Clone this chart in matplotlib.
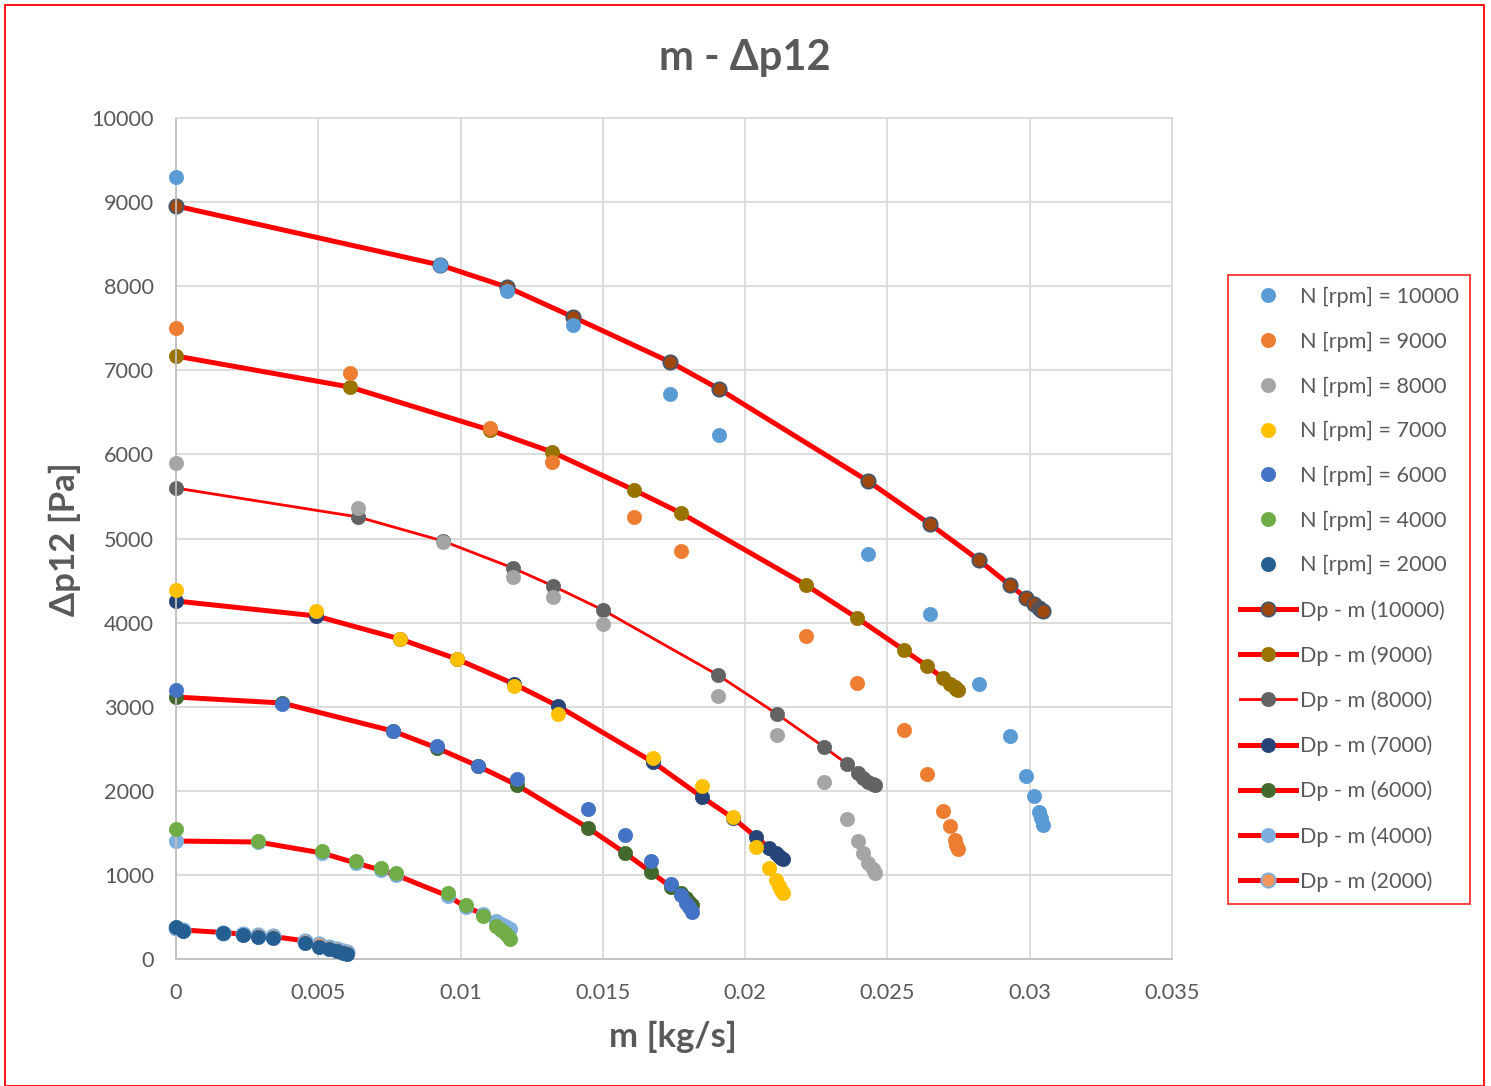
import matplotlib
matplotlib.use("Agg")
import matplotlib.pyplot as plt
from matplotlib.patches import Rectangle

plt.rcParams['font.family'] = ['Lato', 'DejaVu Sans']

# ---------------- data ----------------
speeds = ["10000", "9000", "8000", "7000", "6000", "4000", "2000"]

m_10000 = [0, 0.00928, 0.01163, 0.01395, 0.01736, 0.01908, 0.02431, 0.02649, 0.02821, 0.0293, 0.02987, 0.03015, 0.03033, 0.0304, 0.03046]
meas_10000 = [9300, 8252, 7943, 7539, 6718, 6231, 4816, 4102, 3270, 2652, 2176, 1938, 1748, 1676, 1593]
fit_10000 = [8954, 8252, 7990, 7634, 7099, 6778, 5684, 5172, 4744, 4447, 4293, 4221, 4174, 4150, 4138]

m_9000 = [0, 0.00611, 0.01103, 0.01321, 0.01609, 0.01774, 0.02214, 0.02393, 0.02558, 0.02639, 0.02695, 0.0272, 0.02737, 0.02742, 0.02748]
meas_9000 = [7503, 6968, 6314, 5910, 5256, 4851, 3841, 3282, 2723, 2200, 1760, 1581, 1415, 1356, 1308]
fit_9000 = [7170, 6801, 6290, 6029, 5577, 5303, 4447, 4055, 3674, 3484, 3341, 3270, 3234, 3210, 3199]

m_8000 = [0, 0.0064, 0.00938, 0.01184, 0.01325, 0.015, 0.01904, 0.02112, 0.02277, 0.02358, 0.02396, 0.02414, 0.02432, 0.0245, 0.02457]
meas_8000 = [5898, 5363, 4958, 4542, 4304, 3983, 3127, 2664, 2105, 1665, 1403, 1260, 1141, 1070, 1022]
fit_8000 = [5600, 5256, 4970, 4649, 4435, 4150, 3377, 2913, 2521, 2319, 2212, 2152, 2105, 2081, 2069]

m_7000 = [0, 0.00492, 0.00787, 0.00987, 0.01188, 0.01342, 0.01676, 0.01848, 0.01957, 0.02038, 0.02084, 0.02108, 0.02119, 0.02126, 0.02133]
meas_7000 = [4388, 4138, 3805, 3567, 3246, 2913, 2390, 2057, 1688, 1332, 1082, 939, 868, 820, 785]
fit_7000 = [4257, 4079, 3805, 3567, 3270, 3008, 2342, 1926, 1677, 1451, 1320, 1260, 1225, 1201, 1189]

m_6000 = [0, 0.00372, 0.00762, 0.00917, 0.01061, 0.01198, 0.01448, 0.01578, 0.01669, 0.01739, 0.01774, 0.01792, 0.01803, 0.01813]
meas_6000 = [3199, 3032, 2711, 2533, 2295, 2140, 1784, 1474, 1165, 892, 761, 666, 618, 559]
fit_6000 = [3115, 3044, 2711, 2509, 2295, 2069, 1558, 1260, 1034, 856, 785, 725, 678, 642]

m_4000 = [0, 0.00288, 0.00513, 0.00632, 0.0072, 0.00773, 0.00956, 0.01019, 0.01079, 0.01124, 0.01141, 0.01155, 0.01166, 0.01174]
meas_4000 = [1546, 1403, 1284, 1165, 1082, 1023, 785, 642, 511, 392, 345, 309, 273, 238]
fit_4000 = [1403, 1391, 1260, 1141, 1058, 999, 749, 618, 535, 452, 416, 392, 369, 357]

m_2000 = [0, 0.00025, 0.00165, 0.00235, 0.00288, 0.00341, 0.00453, 0.00502, 0.00537, 0.00566, 0.00587, 0.00601]
meas_2000 = [380, 333, 309, 285, 262, 250, 190, 143, 119, 95, 71, 59]
fit_2000 = [373, 345, 315, 295, 280, 268, 215, 175, 145, 118, 95, 80]

x_ticks = [0, 0.005, 0.01, 0.015, 0.02, 0.025, 0.03, 0.035]
x_tick_labels = ["0", "0.005", "0.01", "0.015", "0.02", "0.025", "0.03", "0.035"]
y_ticks = [0, 1000, 2000, 3000, 4000, 5000, 6000, 7000, 8000, 9000, 10000]

m_all = [m_10000, m_9000, m_8000, m_7000, m_6000, m_4000, m_2000]
meas_all = [meas_10000, meas_9000, meas_8000, meas_7000, meas_6000, meas_4000, meas_2000]
fit_all = [fit_10000, fit_9000, fit_8000, fit_7000, fit_6000, fit_4000, fit_2000]

# ---------------- styles ----------------
meas_colors = ["#5B9BD5", "#ED7D31", "#A5A5A5", "#FFC000", "#4472C4", "#70AD47", "#255E91"]
fit_face = ["#9E480E", "#997300", "#636363", "#264478", "#43682B", "#7CAFDD", "#F1975A"]
fit_edge = ["#44546A", "#997300", "#636363", "#264478", "#43682B", "#7CAFDD", "#7CAFDD"]
fit_lw = [3.6, 3.6, 2.0, 3.6, 3.6, 3.6, 3.6]
text_col = "#595959"

fig = plt.figure(figsize=(14.91, 10.86), dpi=100)
ax = fig.add_axes([176/1491, 1-959/1086, (1172-176)/1491, (959-118)/1086])

ms = 10.3
fit_handles = []
meas_handles = []
for i in range(len(speeds)):
    h, = ax.plot(m_all[i], fit_all[i], color="#FF0000", lw=fit_lw[i], marker='o', ms=ms,
                 mfc=fit_face[i], mec=fit_edge[i], mew=1.3 if i in (0, 6) else 0.5,
                 zorder=2 + 0.01*(7-i), clip_on=False, label=f"Dp - m ({speeds[i]})")
    fit_handles.append(h)
for i in range(len(speeds)):
    h, = ax.plot(m_all[i], meas_all[i], ls='none', marker='o', ms=ms,
                 mfc=meas_colors[i], mec=meas_colors[i], mew=0.5,
                 zorder=3 + 0.01*(7-i), clip_on=False, label=f"N [rpm] = {speeds[i]}")
    meas_handles.append(h)

ax.set_xlim(0, 0.035)
ax.set_ylim(0, 10000)
ax.set_xticks(x_ticks)
ax.set_xticklabels(x_tick_labels)
ax.set_yticks(y_ticks)
ax.tick_params(length=0, labelsize=15.6, colors=text_col)
ax.tick_params(axis='x', pad=17)
ax.tick_params(axis='y', pad=16)
ax.grid(True, color="#D9D9D9", lw=1.3, zorder=0)
ax.set_axisbelow(True)
for s in ["top", "right"]:
    ax.spines[s].set_color("#D9D9D9")
    ax.spines[s].set_linewidth(1.3)
for s in ["left", "bottom"]:
    ax.spines[s].set_color("#BFBFBF")
    ax.spines[s].set_linewidth(1.3)

fig.text(673/1491, 1-1037/1086, "m [kg/s]", ha='center', va='center',
         fontsize=25, fontweight='bold', color=text_col)
fig.text(65/1491, 1-539/1086, "Δp12 [Pa]", ha='center', va='center', rotation=90,
         fontsize=25, fontweight='bold', color=text_col)
fig.text(745/1491, 1-58/1086, "m - Δp12", ha='center', va='center',
         fontsize=30, fontweight='bold', color=text_col)

leg = fig.legend(handles=meas_handles + fit_handles, loc='upper left',
                 bbox_to_anchor=(1228/1491, 1-275/1086), bbox_transform=fig.transFigure,
                 fontsize=15.6, frameon=True, fancybox=False, labelspacing=1.135,
                 handlelength=2.6, handletextpad=0.15, borderpad=0.55, borderaxespad=0)
leg.get_frame().set_edgecolor("#FF0000")
leg.get_frame().set_linewidth(1.3)
for t in leg.get_texts():
    t.set_color(text_col)

fig.patches.append(Rectangle((5/1491, 0), 1479/1491, 1-5/1086, transform=fig.transFigure,
                             fill=False, edgecolor="#FF0000", lw=1.3))

fig.savefig("out.png", dpi=100)
